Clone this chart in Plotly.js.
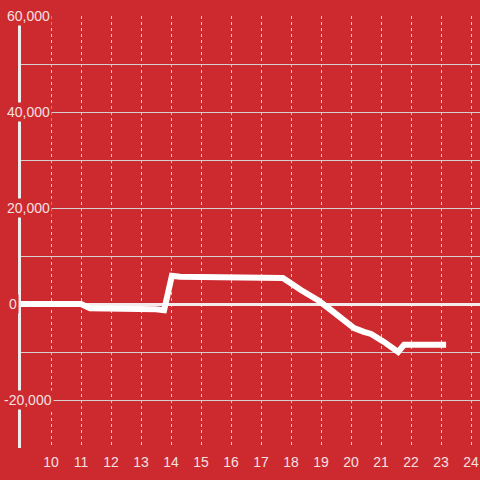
<!DOCTYPE html>
<html>
<head>
<meta charset="utf-8">
<script src="https://cdn.plot.ly/plotly-3.0.1.min.js"></script>
<style>html,body{margin:0;padding:0;background:#cd2a2f;}#chart{width:480px;height:480px;}</style>
</head>
<body>
<div id="chart"></div>
<script>
// Data
const hours = [9, 11, 11.3, 13.1, 13.5, 13.77, 14.03, 14.3, 16.5, 17, 17.73, 18.33, 18.9, 19.33, 19.77, 20.1, 20.43, 20.67, 21.1, 21.57, 21.77, 23.17];
const values = [0, 0, -900, -900, -1100, -1300, 5900, 5700, 5700, 5500, 5400, 2900, 800, -1250, -3300, -5000, -5800, -6250, -7900, -10000, -8500, -8500];
const xTickVals = [10, 11, 12, 13, 14, 15, 16, 17, 18, 19, 20, 21, 22, 23, 24];
const yLabelVals = [60000, 40000, 20000, 0, -20000];
const yLabelText = ['60,000', '40,000', '20,000', '0', '-20,000'];

const bg = '#cd2a2f';
const labelColor = '#f4e0e0';
const gridColor = '#d6cfcf';

const annotations = yLabelVals.map((v, i) => ({
  x: v === 0 ? -0.018 : 0.016,
  xref: 'paper', y: v, yref: 'y',
  text: yLabelText[i], showarrow: false,
  xanchor: 'center', yanchor: 'middle',
  font: {family: 'Liberation Sans, Arial, sans-serif', size: 14, color: labelColor},
  bgcolor: bg, borderpad: 1
}));

Plotly.newPlot('chart', [{
  x: hours, y: values, type: 'scatter', mode: 'lines',
  line: {color: '#ffffff', width: 6},
  hoverinfo: 'skip'
}], {
  width: 480, height: 480,
  margin: {l: 21, r: 0, t: 16, b: 32},
  paper_bgcolor: bg, plot_bgcolor: bg,
  showlegend: false,
  xaxis: {
    range: [9, 9 + 459 / 30],
    tickvals: xTickVals, ticks: '', showline: false,
    showgrid: true, gridcolor: gridColor, gridwidth: 1, griddash: 'dot',
    zeroline: false,
    tickfont: {family: 'Liberation Sans, Arial, sans-serif', size: 14, color: labelColor},
    ticklabelstandoff: 4
  },
  yaxis: {
    range: [-30000, 60000],
    dtick: 10000, showticklabels: false, ticks: '',
    showgrid: true, gridcolor: gridColor, gridwidth: 1,
    zeroline: true, zerolinecolor: '#f3ecec', zerolinewidth: 3,
    showline: true, linecolor: '#f3ecec', linewidth: 3
  },
  annotations: annotations
}, {staticPlot: true});
</script>
</body>
</html>
